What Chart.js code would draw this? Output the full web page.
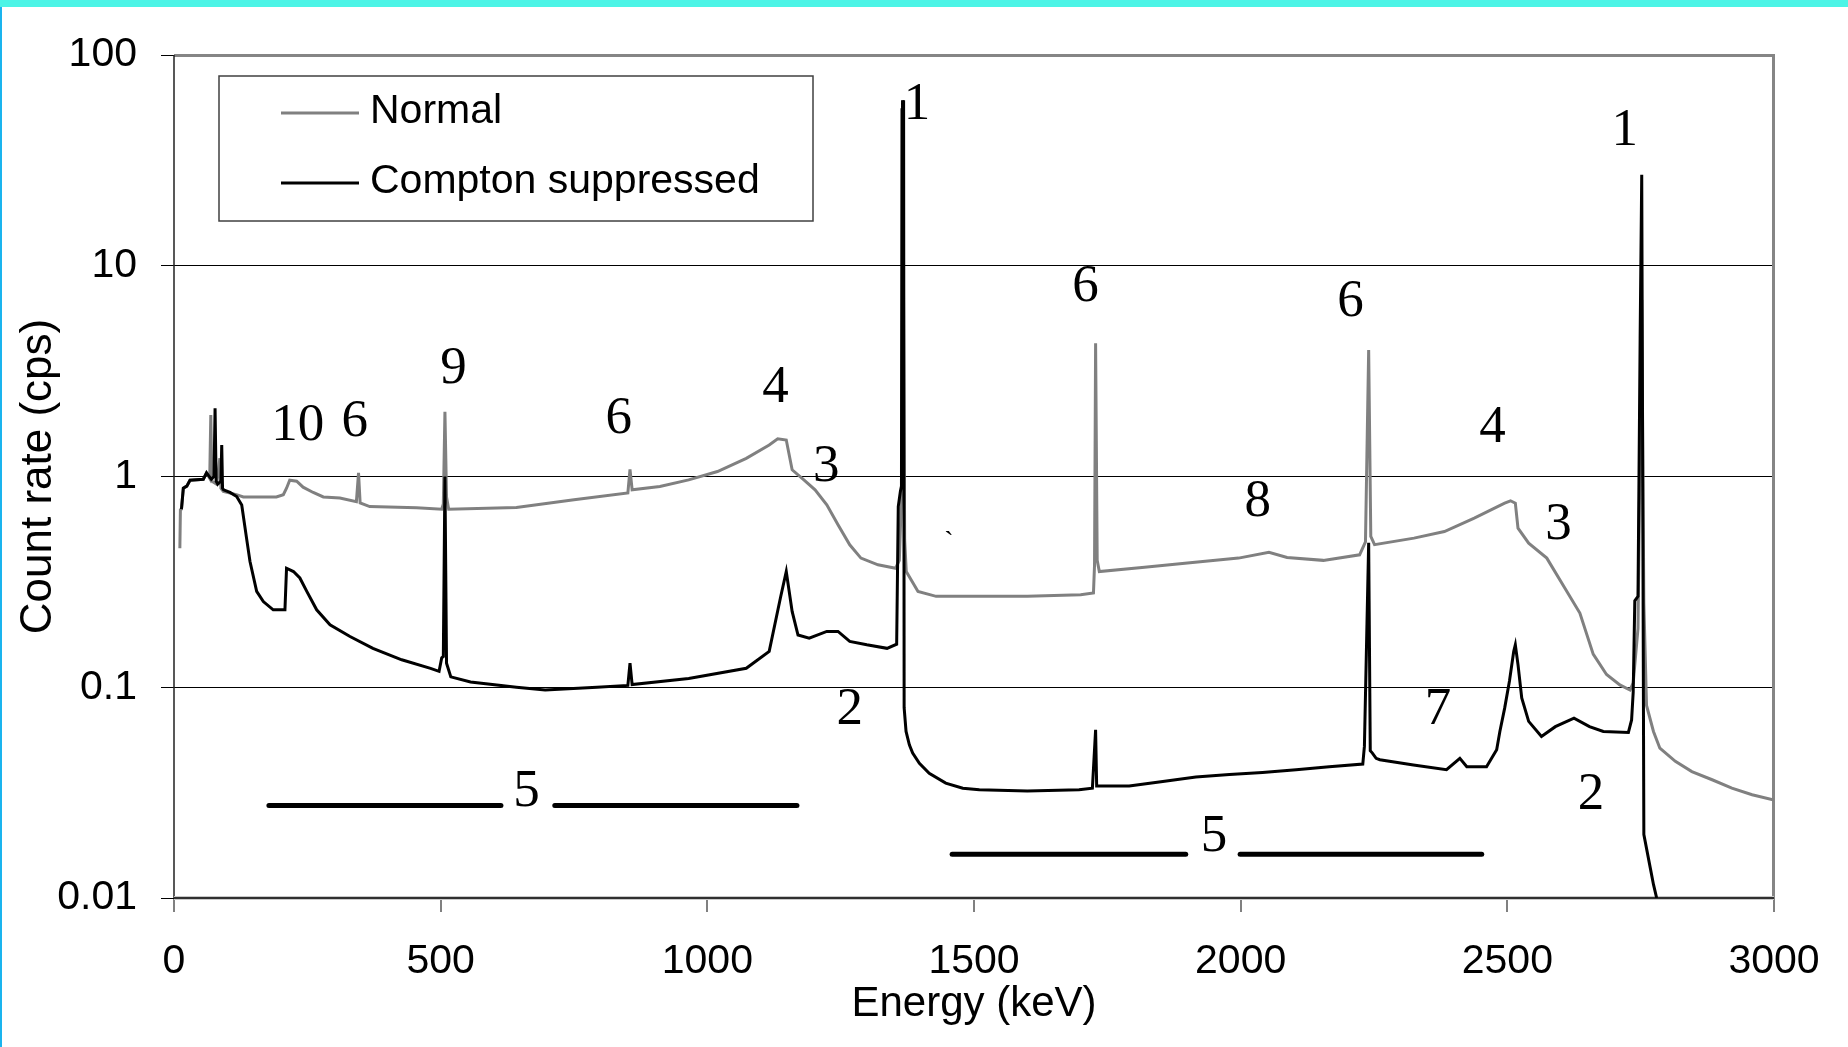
<!DOCTYPE html>
<html><head><meta charset="utf-8">
<script src="https://cdn.jsdelivr.net/npm/chart.js@4.4.0/dist/chart.umd.min.js"></script>
<style>
html,body{margin:0;padding:0;background:#fff;}
canvas{display:block;}
</style></head><body>
<canvas id="c" width="1848" height="1047"></canvas>
<script>
// ---- data ----
const xTicks = [0, 500, 1000, 1500, 2000, 2500, 3000];
const xTickLabels = ['0', '500', '1000', '1500', '2000', '2500', '3000'];
const yTicks = [0.01, 0.1, 1, 10, 100];
const yTickLabels = ['0.01', '0.1', '1', '10', '100'];
const seriesNames = ['Normal', 'Compton suppressed'];

const normalE = [11,12,14,17.5,24,30,55,61,67,69,71,80,86,88,92.5,117,130,192,205,211,217,230,242,261,280,311,342,346,349,367,455,502,505,508,511,515,642,750,851,855,859,911,965,1019,1073,1116,1132,1148,1159,1181,1202,1224,1245,1267,1288,1320,1353,1360,1364,1367,1370,1373,1395,1429,1500,1600,1700,1724,1726,1728,1731,1735,1815,1905,1996,2053,2087,2155,2223,2234,2240,2244,2251,2325,2382,2438,2495,2506,2515,2520,2540,2574,2608,2636,2661,2686,2711,2730,2736,2745,2752,2756,2761,2774,2786,2815,2846,2884,2921,2959,3000];
const normalCps = [0.457,0.695,0.70,0.88,0.90,0.96,0.97,1.04,0.98,1.96,0.95,0.92,1.22,0.88,0.85,0.82,0.80,0.80,0.82,0.88,0.96,0.95,0.89,0.84,0.80,0.79,0.76,1.04,0.75,0.72,0.71,0.70,0.74,2.03,0.8,0.70,0.713,0.775,0.835,1.08,0.865,0.897,0.964,1.056,1.22,1.41,1.51,1.49,1.076,0.964,0.864,0.734,0.59,0.474,0.41,0.381,0.367,0.40,0.8,20,0.5,0.354,0.285,0.27,0.27,0.27,0.275,0.28,0.38,4.29,0.40,0.354,0.37,0.39,0.41,0.437,0.413,0.40,0.425,0.49,3.98,0.52,0.475,0.51,0.548,0.634,0.747,0.767,0.747,0.569,0.483,0.41,0.295,0.225,0.1435,0.115,0.1026,0.097,0.105,0.19,6.9,0.25,0.082,0.0617,0.0514,0.0445,0.0398,0.0364,0.0332,0.0309,0.0292];

const comptonE = [14,17.5,24,30,55,61,70,75,77,79,82,88,89.5,91,93,105,117.5,127,136,142.5,155,167.5,186,208,211,224,236,249,267.5,292.5,330,373,427,481,497,502,505,508,511,519,556,642,696,793,851,855,859,965,1073,1116,1137,1148,1159,1170,1191,1224,1245,1267,1299,1337,1355,1358,1362,1364,1365,1366,1367,1368,1369,1372.6,1378.8,1385,1397.6,1416,1447,1479,1510,1600,1697,1722,1728,1730,1735,1791,1854,1916,1979,2041,2104,2166,2229,2232,2240,2243,2247,2254,2261,2324,2386,2411,2424,2461,2480,2486,2495,2504,2512,2515,2520,2527,2540,2564,2590,2625,2654,2680,2727,2733,2736,2739,2745,2749,2752,2756,2768,2774,2780];
const comptonCps = [0.70,0.88,0.90,0.96,0.97,1.04,0.97,1.0,2.11,0.95,0.92,0.95,1.41,0.88,0.864,0.84,0.804,0.733,0.51,0.395,0.285,0.255,0.233,0.233,0.367,0.354,0.33,0.285,0.233,0.198,0.174,0.153,0.135,0.123,0.119,0.138,0.14,1.0,0.13,0.112,0.106,0.1,0.097,0.1,0.102,0.13,0.103,0.110,0.123,0.148,0.265,0.354,0.229,0.177,0.171,0.184,0.184,0.165,0.159,0.153,0.16,0.72,0.85,0.9,55,61,58,61,0.08,0.0617,0.0533,0.0487,0.0436,0.0391,0.0351,0.0332,0.0326,0.0322,0.0326,0.0332,0.0628,0.034,0.034,0.034,0.0357,0.0375,0.0385,0.0394,0.0406,0.042,0.0432,0.0524,0.485,0.05,0.0487,0.046,0.0453,0.0428,0.0406,0.046,0.042,0.042,0.0505,0.0617,0.0796,0.107,0.148,0.159,0.128,0.089,0.0689,0.0584,0.065,0.0714,0.065,0.0617,0.061,0.07,0.0947,0.257,0.27,4.54,27,0.02,0.0139,0.0116,0.01];

// peak labels (text, energy, count rate at label centre)
const annoText = ['1','1','10','6','9','6','4','3','2','6','6','8','4','3','7','2','5','5'];
const annoE    = [1393,2720,232,339,524,834,1128,1223,1267,1709,2206,2032,2472,2596,2370,2657,661,1950];
const annoCps  = [58,43.5,1.73,1.82,3.24,1.87,2.62,1.107,0.078,7.93,6.71,0.76,1.69,0.589,0.078,0.0309,0.0318,0.01945];

// "5" region bars
const barFromE = [178, 714, 1459, 1999];
const barToE   = [613, 1168, 1897, 2452];
const barCps   = [0.0275, 0.0275, 0.01615, 0.01615];

// stray mark in the original
const markText = ['`'];
const markE = [1453];
const markCps = [0.488];

const toPts = (xs, ys) => xs.map((x, i) => ({x: x, y: ys[i]}));

const SANS = '"Liberation Sans", Arial, sans-serif';
const SERIF = '"Liberation Serif", "Times New Roman", serif';

const framePlugin = {
  id: 'frame',
  beforeDraw(chart) {
    const ctx = chart.ctx;
    ctx.save();
    ctx.fillStyle = '#ffffff';
    ctx.fillRect(0, 0, chart.width, chart.height);
    ctx.fillStyle = '#4cf4e6';
    ctx.fillRect(0, 0, chart.width, 7);
    ctx.fillStyle = '#1ab4ee';
    ctx.fillRect(0, 7, 2, chart.height - 7);
    ctx.restore();
  },
  beforeDatasetsDraw(chart) {
    const ctx = chart.ctx, a = chart.chartArea;
    ctx.save();
    ctx.strokeStyle = '#858585';
    ctx.lineWidth = 3;
    ctx.beginPath();
    ctx.moveTo(a.left, a.top + 0.5);
    ctx.lineTo(a.right - 0.5, a.top + 0.5);
    ctx.lineTo(a.right - 0.5, a.bottom);
    ctx.stroke();
    ctx.strokeStyle = '#202020';
    ctx.lineWidth = 1.5;
    ctx.beginPath();
    ctx.moveTo(a.left, a.top);
    ctx.lineTo(a.left, a.bottom);
    ctx.stroke();
    ctx.strokeStyle = '#c8c8c8';
    ctx.lineWidth = 4;
    ctx.beginPath();
    ctx.moveTo(a.left, a.bottom);
    ctx.lineTo(a.right, a.bottom);
    ctx.stroke();
    ctx.strokeStyle = '#303030';
    ctx.lineWidth = 2;
    ctx.beginPath();
    ctx.moveTo(a.left, a.bottom);
    ctx.lineTo(a.right, a.bottom);
    ctx.stroke();
    ctx.restore();
  },
  afterDatasetsDraw(chart) {
    const ctx = chart.ctx, a = chart.chartArea;
    const xs = chart.scales.x, ys = chart.scales.y;
    ctx.save();
    // region bars
    ctx.strokeStyle = '#000';
    ctx.lineWidth = 5;
    ctx.lineCap = 'round';
    barFromE.forEach((e, i) => {
      const y = ys.getPixelForValue(barCps[i]);
      ctx.beginPath();
      ctx.moveTo(xs.getPixelForValue(e), y);
      ctx.lineTo(xs.getPixelForValue(barToE[i]), y);
      ctx.stroke();
    });
    // peak labels
    ctx.fillStyle = '#000';
    ctx.textAlign = 'center';
    ctx.textBaseline = 'middle';
    ctx.font = '53px ' + SERIF;
    annoText.forEach((t, i) => {
      ctx.fillText(t, xs.getPixelForValue(annoE[i]), ys.getPixelForValue(annoCps[i]));
    });
    ctx.font = '28px ' + SERIF;
    markText.forEach((t, i) => {
      ctx.fillText(t, xs.getPixelForValue(markE[i]), ys.getPixelForValue(markCps[i]));
    });
    // legend
    const bx = a.left + 45, by = a.top + 21, bw = 594, bh = 145;
    ctx.fillStyle = '#fff';
    ctx.fillRect(bx, by, bw, bh);
    ctx.strokeStyle = '#404040';
    ctx.lineWidth = 1.5;
    ctx.strokeRect(bx, by, bw, bh);
    ctx.font = '41px ' + SANS;
    ctx.textAlign = 'left';
    ctx.textBaseline = 'alphabetic';
    const rows = [58, 128];
    chart.data.datasets.forEach((ds, i) => {
      ctx.strokeStyle = ds.borderColor;
      ctx.lineWidth = 3;
      ctx.lineCap = 'butt';
      ctx.beginPath();
      ctx.moveTo(a.left + 107, a.top + rows[i]);
      ctx.lineTo(a.left + 185, a.top + rows[i]);
      ctx.stroke();
      ctx.fillStyle = '#000';
      ctx.fillText(ds.label, a.left + 196, a.top + rows[i] + 10);
    });
    ctx.restore();
  }
};

new Chart(document.getElementById('c'), {
  type: 'line',
  data: {
    datasets: [
      {label: seriesNames[0], data: toPts(normalE, normalCps), borderColor: '#808080',
       borderWidth: 3, pointRadius: 0, tension: 0, order: 2},
      {label: seriesNames[1], data: toPts(comptonE, comptonCps), borderColor: '#000000',
       borderWidth: 3, pointRadius: 0, tension: 0, order: 1}
    ]
  },
  options: {
    responsive: false,
    animation: false,
    devicePixelRatio: 1,
    layout: {padding: {top: 55, right: 74, left: 0, bottom: 0}},
    plugins: {legend: {display: false}, tooltip: {enabled: false}},
    scales: {
      x: {
        type: 'linear', min: 0, max: 3000,
        afterBuildTicks: s => { s.ticks = xTicks.map(v => ({value: v})); },
        afterFit: s => { s.height = 149; },
        ticks: {font: {family: SANS, size: 41}, color: '#000', padding: 25, maxRotation: 0, autoSkip: false,
                callback: v => xTickLabels[xTicks.indexOf(v)]},
        grid: {drawOnChartArea: false, tickColor: '#808080', tickLength: 14, lineWidth: 2},
        border: {display: false},
        title: {display: true, text: 'Energy (keV)', color: '#000',
                font: {family: SANS, size: 42}, padding: {top: 0, bottom: 17}}
      },
      y: {
        type: 'logarithmic', min: 0.01, max: 100,
        afterBuildTicks: s => { s.ticks = yTicks.map(v => ({value: v})); },
        afterFit: s => { s.width = 174; },
        ticks: {font: {family: SANS, size: 41}, color: '#000', padding: 24, autoSkip: false,
                callback: v => yTickLabels[yTicks.indexOf(v)]},
        grid: {color: '#000', lineWidth: 1, tickLength: 13, tickColor: '#000'},
        border: {display: false},
        title: {display: true, text: 'Count rate (cps)', color: '#000',
                font: {family: SANS, size: 44}, padding: {top: 12, bottom: 0}}
      }
    }
  },
  plugins: [framePlugin]
});
</script>
</body></html>
